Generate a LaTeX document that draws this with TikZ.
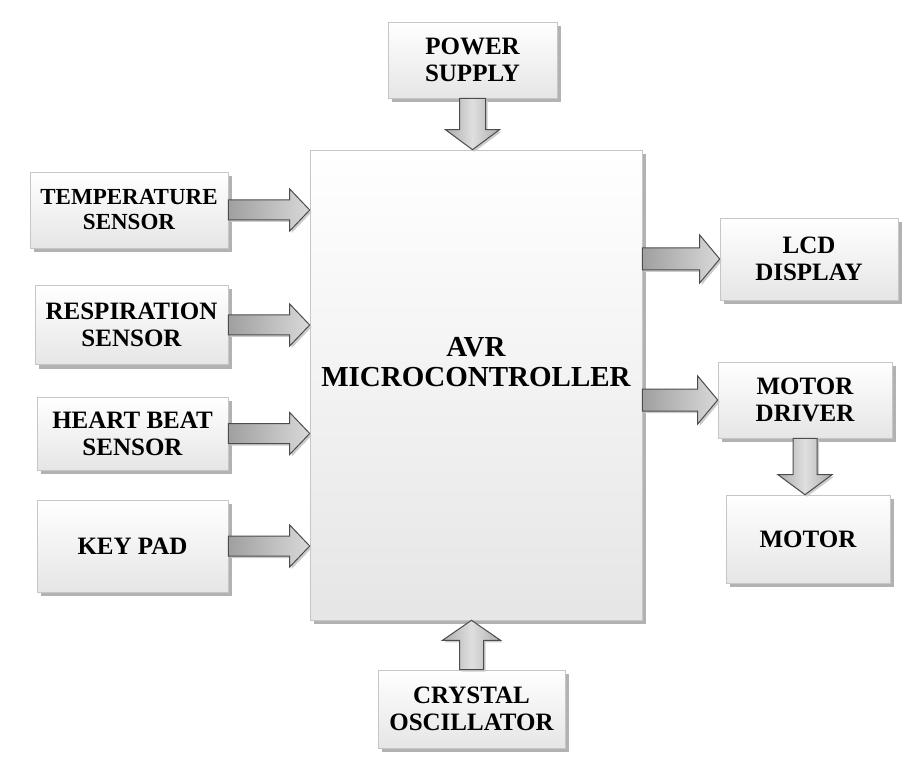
\documentclass[tikz,border=0pt]{standalone}
\usepackage{fontspec}
\setmainfont{Liberation Serif}
\usetikzlibrary{calc,shadows}

\tikzset{
  block/.style={draw=gray!45, line width=0.6pt, top color=white, bottom color=gray!20,
    drop shadow={shadow xshift=4pt, shadow yshift=-4pt, fill=gray!60, opacity=1},
    align=center, inner sep=0pt, font=\fontsize{25}{27}\selectfont\bfseries},
  fatarr/.style={draw=gray!60!black, line width=1pt,
    drop shadow={shadow xshift=2pt, shadow yshift=-2pt, fill=gray!40, opacity=1}},
  harr/.style={fatarr, left color=gray!75, right color=gray!30},
  varr/.style={fatarr, left color=gray!65, right color=gray!65, middle color=gray!25},
}

% block arrow: [style]{from}{to}{shaft half width}{head half width}
\newcommand{\fatarrow}[5][harr]{%
  \coordinate (faa) at (#2);
  \coordinate (fab) at (#3);
  \coordinate (fah) at ($(fab)!20pt!(faa)$);
  \path[#1] ($(faa)!#4!90:(fab)$) -- ($(fah)!#4!90:(fab)$) -- ($(fah)!#5!90:(fab)$)
    -- (fab) -- ($(fah)!#5!-90:(fab)$) -- ($(fah)!#4!-90:(fab)$)
    -- ($(faa)!#4!-90:(fab)$) -- cycle;
}

\begin{document}
\begin{tikzpicture}[x=1pt,y=-1pt]
\useasboundingbox (0,0) rectangle (923,775);

% blocks
\node[block, minimum width=332pt, minimum height=470pt, text depth=46pt,
  font=\fontsize{29}{30}\selectfont\bfseries] (mcu) at (476,385) {AVR\\MICROCONTROLLER};
\node[block, minimum width=169pt, minimum height=76pt] (power) at (472.5,60) {POWER\\SUPPLY};
\node[block, minimum width=187pt, minimum height=78pt] (crystal) at (471.5,709) {CRYSTAL\\OSCILLATOR};

\node[block, minimum width=198pt, minimum height=76pt,
  font=\fontsize{23}{25}\selectfont\bfseries] (temp) at (129,210) {TEMPERATURE\\SENSOR};
\node[block, minimum width=193pt, minimum height=79pt] (resp) at (131.5,325) {RESPIRATION\\SENSOR};
\node[block, minimum width=191pt, minimum height=73pt] (heart) at (132.5,433.5) {HEART BEAT\\SENSOR};
\node[block, minimum width=191pt, minimum height=92pt] (key) at (132.5,546) {KEY PAD};

\node[block, minimum width=178pt, minimum height=82pt] (lcd) at (809,259) {LCD\\DISPLAY};
\node[block, minimum width=174pt, minimum height=76pt] (driver) at (805,400) {MOTOR\\DRIVER};
\node[block, minimum width=164pt, minimum height=88pt] (motor) at (808,539) {MOTOR};

% arrows
\fatarrow[varr]{power.south}{power.south |- mcu.north}{13pt}{27pt}
\fatarrow[varr]{crystal.north}{crystal.north |- mcu.south}{12pt}{29pt}
\fatarrow{temp.east}{temp.east -| mcu.west}{10pt}{21pt}
\fatarrow{resp.east}{resp.east -| mcu.west}{10pt}{21pt}
\fatarrow{heart.east}{heart.east -| mcu.west}{10pt}{21pt}
\fatarrow{key.east}{key.east -| mcu.west}{10pt}{21pt}
\fatarrow{mcu.east |- lcd.west}{lcd.west}{11pt}{24pt}
\fatarrow{mcu.east |- driver.west}{driver.west}{11pt}{24pt}
\fatarrow[varr]{driver.south}{driver.south |- motor.north}{12pt}{27pt}
\end{tikzpicture}
\end{document}
